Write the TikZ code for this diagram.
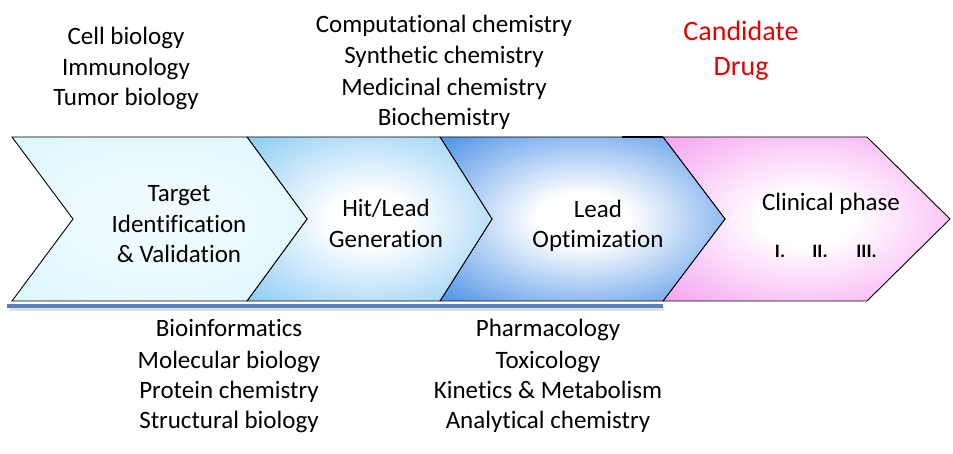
\documentclass[tikz,border=0pt]{standalone}
\usepackage{fontspec}
\setmainfont{Carlito}[Ligatures=NoCommon]
\usetikzlibrary{calc}
\definecolor{cA}{HTML}{D3F4FC}
\definecolor{cB}{HTML}{8ACAF4}
\definecolor{cC}{HTML}{5597E8}
\definecolor{cD}{HTML}{F6A0F0}
\definecolor{uline}{HTML}{5680C0}
\definecolor{drugred}{HTML}{E60000}
\pgfdeclareradialshading{shA}{\pgfpoint{0bp}{0bp}}{color(0bp)=(white!70!cA); color(15bp)=(white!55!cA); color(45bp)=(cA); color(75bp)=(cA)}
\pgfdeclareradialshading{shB}{\pgfpoint{0bp}{0bp}}{color(0bp)=(white); color(8bp)=(white); color(36bp)=(cB); color(75bp)=(cB)}
\pgfdeclareradialshading{shC}{\pgfpoint{0bp}{0bp}}{color(0bp)=(white); color(8bp)=(white); color(34bp)=(cC); color(75bp)=(cC)}
\pgfdeclareradialshading{shD}{\pgfpoint{0bp}{0bp}}{color(0bp)=(white); color(8bp)=(white); color(36bp)=(cD); color(75bp)=(cD)}
\tikzset{
  lbl/.style={anchor=base, inner sep=0pt, font=\fontsize{25}{30}\selectfont},
  biglbl/.style={anchor=base, inner sep=0pt, text=drugred, font=\fontsize{28}{34}\selectfont},
  phaselbl/.style={anchor=base, inner sep=0pt, font=\fontsize{19}{22}\selectfont\bfseries},
  chevline/.style={draw=black, line width=0.9pt, line join=miter},
}
\begin{document}
\begin{tikzpicture}[x=1pt,y=-1pt]
\useasboundingbox (0,0) rectangle (953,454);
% chevrons
\shade[shading=shD, chevline] (663,137) -- (867,137) -- (950,219) -- (867,301) -- (663,301) -- (725,219) -- cycle;
\shade[shading=shC, chevline] (440,137) -- (663,137) -- (725,219) -- (663,301) -- (440,301) -- (492,219) -- cycle;
\shade[shading=shB, chevline] (247,137) -- (440,137) -- (492,219) -- (440,301) -- (247,301) -- (307,219) -- cycle;
\shade[shading=shA, chevline] (12,137) -- (247,137) -- (307,219) -- (247,301) -- (12,301) -- (73,219) -- cycle;
\draw[line width=1.3pt] (622,137) -- (663,137);
% underline with shadow
\draw[black!12, line width=4pt] (9,309.5) -- (664,309.5);
\draw[uline, line width=4pt] (7,306.5) -- (663,306.5);
% top left
\node[lbl] (t1) at (126,45) {Cell biology};
\node[lbl] (t2) at (126,76) {Immunology};
\node[lbl] (t3) at (126,106) {Tumor biology};
% top middle
\node[lbl] (m1) at (444,33) {Computational chemistry};
\node[lbl] (m2) at (444,64) {Synthetic chemistry};
\node[lbl] (m3) at (444,96) {Medicinal chemistry};
\node[lbl] (m4) at (444,126) {Biochemistry};
% candidate drug
\node[biglbl] (d1) at (741,41) {Candidate};
\node[biglbl] (d2) at (741,76) {Drug};
% chevron labels
\node[lbl] (a1) at (179,202) {Target};
\node[lbl] (a2) at (179,233) {Identification};
\node[lbl] (a3) at (179,263) {\& Validation};
\node[lbl] (b1) at (386,217) {Hit/Lead};
\node[lbl] (b2) at (386,248) {Generation};
\node[lbl] (c1) at (598,218) {Lead};
\node[lbl] (c2) at (598,248) {Optimization};
\node[lbl] (e1) at (831,211) {Clinical phase};
\node[phaselbl] (r1) at (780,258) {I.};
\node[phaselbl] (r2) at (820,258) {II.};
\node[phaselbl] (r3) at (866.5,258) {III.};
% bottom left
\node[lbl] (l1) at (229,337) {Bioinformatics};
\node[lbl] (l2) at (229,368) {Molecular biology};
\node[lbl] (l3) at (229,398) {Protein chemistry};
\node[lbl] (l4) at (229,428) {Structural biology};
% bottom right
\node[lbl] (k1) at (548,337) {Pharmacology};
\node[lbl] (k2) at (548,368) {Toxicology};
\node[lbl] (k3) at (548,398) {Kinetics \& Metabolism};
\node[lbl] (k4) at (548,428) {Analytical chemistry};
\end{tikzpicture}
\end{document}
